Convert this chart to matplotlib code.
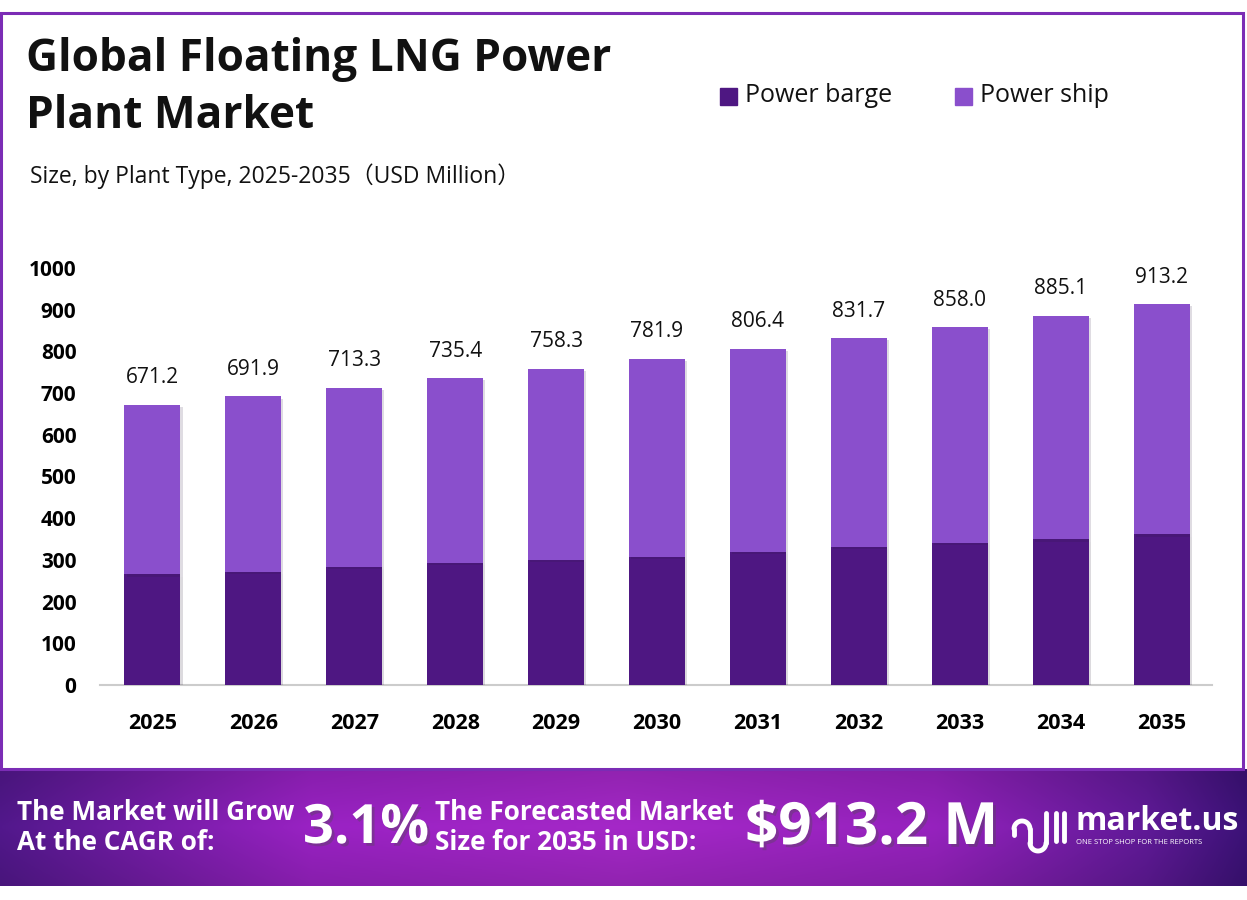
import matplotlib
matplotlib.use("Agg")
import matplotlib.pyplot as plt
import numpy as np
from matplotlib.patches import Rectangle
import matplotlib.patheffects as pe

years = ["2025", "2026", "2027", "2028", "2029", "2030", "2031", "2032", "2033", "2034", "2035"]
totals = [671.2, 691.9, 713.3, 735.4, 758.3, 781.9, 806.4, 831.7, 858.0, 885.1, 913.2]
power_barge = [265, 272, 282, 292, 299, 308, 318, 330, 340, 349, 361]
power_ship = [t - b for t, b in zip(totals, power_barge)]
yticks = [0, 100, 200, 300, 400, 500, 600, 700, 800, 900, 1000]

C_BARGE = "#4e1782"
C_SHIP = "#8a4fcc"
FONT = "Open Sans"

W, H = 1247, 900
fig = plt.figure(figsize=(W / 100, H / 100), dpi=100)
fig.patch.set_facecolor("white")

def fx(px):
    return px / W

def fy(py):
    return 1 - py / H

# outer frame
frame = Rectangle((fx(1), fy(769)), fx(1243) - fx(1), fy(13) - fy(769),
                  transform=fig.transFigure, fill=False, edgecolor="#7b2cb5", lw=2.2)
fig.add_artist(frame)

# main axes
ax = fig.add_axes([fx(100), fy(685), fx(1212) - fx(100), fy(268) - fy(685)])
x = np.arange(len(years))
bw = 0.555
shadow = [pe.SimplePatchShadow(offset=(1.5, -1.5), alpha=0.15), pe.Normal()]
b1 = ax.bar(x, power_barge, bw, color=C_BARGE, label="Power barge", zorder=3)
b2 = ax.bar(x, power_ship, bw, bottom=power_barge, color=C_SHIP, label="Power ship", zorder=3)
for r in list(b1) + list(b2):
    r.set_path_effects(shadow)
for xi, t in zip(x, totals):
    ax.annotate(f"{t:.1f}", xy=(xi, t), xytext=(0, 12), textcoords="offset points",
                ha="center", va="bottom", fontsize=15, family=FONT, color="#111111",
                annotation_clip=False)

ax.set_xlim(-0.52, len(years) - 0.5)
ax.set_ylim(0, 1000)
ax.set_yticks(yticks)
ax.set_yticklabels([str(v) for v in yticks], fontsize=15, fontweight="bold", family=FONT)
ax.set_xticks(x)
ax.set_xticklabels(years, fontsize=15.5, fontweight="bold", family=FONT)
ax.tick_params(axis="y", length=0, pad=17)
ax.tick_params(axis="x", length=0, pad=20.5)
for s in ["top", "right", "left"]:
    ax.spines[s].set_visible(False)
ax.spines["bottom"].set_color("#cccccc")
ax.spines["bottom"].set_linewidth(1.5)
ax.set_facecolor("none")

# title
fig.text(fx(26), fy(60), "Global Floating LNG Power", fontsize=31.8, fontweight="bold",
         family=FONT, color="#111111", va="center", ha="left")
fig.text(fx(26), fy(116), "Plant Market", fontsize=31.8, fontweight="bold",
         family=FONT, color="#111111", va="center", ha="left")
fig.text(fx(30), fy(176), "Size, by Plant Type, 2025-2035（USD Million）", fontsize=16.5,
         family=["Open Sans", "Noto Sans CJK SC", "DejaVu Sans"], color="#111111", va="center", ha="left")

# legend
for lx, lab, c in [(720, "Power barge", C_BARGE), (955, "Power ship", C_SHIP)]:
    fig.add_artist(Rectangle((fx(lx), fy(105)), fx(17), 17 / H, transform=fig.transFigure,
                             color=c))
    fig.text(fx(lx + 25), fy(96), lab, fontsize=18, family=FONT, color="#111111",
             va="center", ha="left")

# banner with gradient
bax = fig.add_axes([0, fy(886), 1, fy(769) - fy(886)])
bax.set_axis_off()
xs = np.linspace(0, 1, 600)
stops_x = [0.0, 0.25, 0.5, 0.75, 0.92, 1.0]
stops_c = np.array([
    [0x52, 0x18, 0x8c],
    [0x9a, 0x22, 0xc4],
    [0xa5, 0x28, 0xc8],
    [0x96, 0x22, 0xbe],
    [0x60, 0x1a, 0x98],
    [0x3c, 0x12, 0x78],
]) / 255.0
grad = np.stack([np.interp(xs, stops_x, stops_c[:, i]) for i in range(3)], axis=-1)
ys = np.linspace(0, 1, 60)
vf = 1 - 0.12 * np.abs(ys - 0.5)[:, None, None] * 2
img = grad[None, :, :] * vf
bax.imshow(img, aspect="auto", extent=[0, 1, 0, 1])
bax.set_xlim(0, 1)
bax.set_ylim(0, 1)

sh = [pe.withSimplePatchShadow(offset=(2, -2), alpha=0.35)]
fig.text(fx(17), fy(812), "The Market will Grow", fontsize=18.8, fontweight="bold",
         family=FONT, color="white", va="center", ha="left")
fig.text(fx(17), fy(842), "At the CAGR of:", fontsize=18.8, fontweight="bold",
         family=FONT, color="white", va="center", ha="left")
fig.text(fx(303), fy(829), "3.1%", fontsize=39, fontweight="bold",
         family=FONT, color="white", va="center", ha="left", path_effects=sh)
fig.text(fx(435), fy(812), "The Forecasted Market", fontsize=18.8, fontweight="bold",
         family=FONT, color="white", va="center", ha="left")
fig.text(fx(435), fy(842), "Size for 2035 in USD:", fontsize=18.8, fontweight="bold",
         family=FONT, color="white", va="center", ha="left")
fig.text(fx(745), fy(829), "$913.2 M", fontsize=42, fontweight="bold",
         family=FONT, color="white", va="center", ha="left", path_effects=sh)

# logo icon (simple)
lax = fig.add_axes([fx(1010), fy(855), fx(60), 50 / H])
lax.set_axis_off()
lax.set_xlim(0, 6)
lax.set_ylim(0, 5)
t = np.linspace(np.pi, 2 * np.pi, 40)
lax.plot(1.2 + 0.8 * np.cos(t), 2.6 + 0.8 * np.sin(t) * -1, color="white", lw=3.5, solid_capstyle="round")
lax.plot([0.4, 0.4], [2.6, 2.0], color="white", lw=3.5, solid_capstyle="round")
lax.plot([2.0, 2.0], [2.6, 1.2], color="white", lw=3.5, solid_capstyle="round")
lax.plot(2.8 + 0.8 * np.cos(t), 1.2 + 0.8 * np.sin(t), color="white", lw=3.5, solid_capstyle="round")
lax.plot([3.6, 3.6], [1.2, 4.2], color="white", lw=3.5, solid_capstyle="round")
lax.plot([4.6, 4.6], [1.4, 4.2], color="white", lw=3.5, solid_capstyle="round")
lax.plot([5.4, 5.4], [1.4, 4.2], color="white", lw=3.5, solid_capstyle="round")

fig.text(fx(1075), fy(822), "market.us", fontsize=23, fontweight="bold",
         family=FONT, color="white", va="center", ha="left")
fig.text(fx(1076), fy(843), "ONE STOP SHOP FOR THE REPORTS", fontsize=5.5,
         family=FONT, color="white", va="center", ha="left")

fig.savefig("out.png", dpi=100, facecolor="white")
